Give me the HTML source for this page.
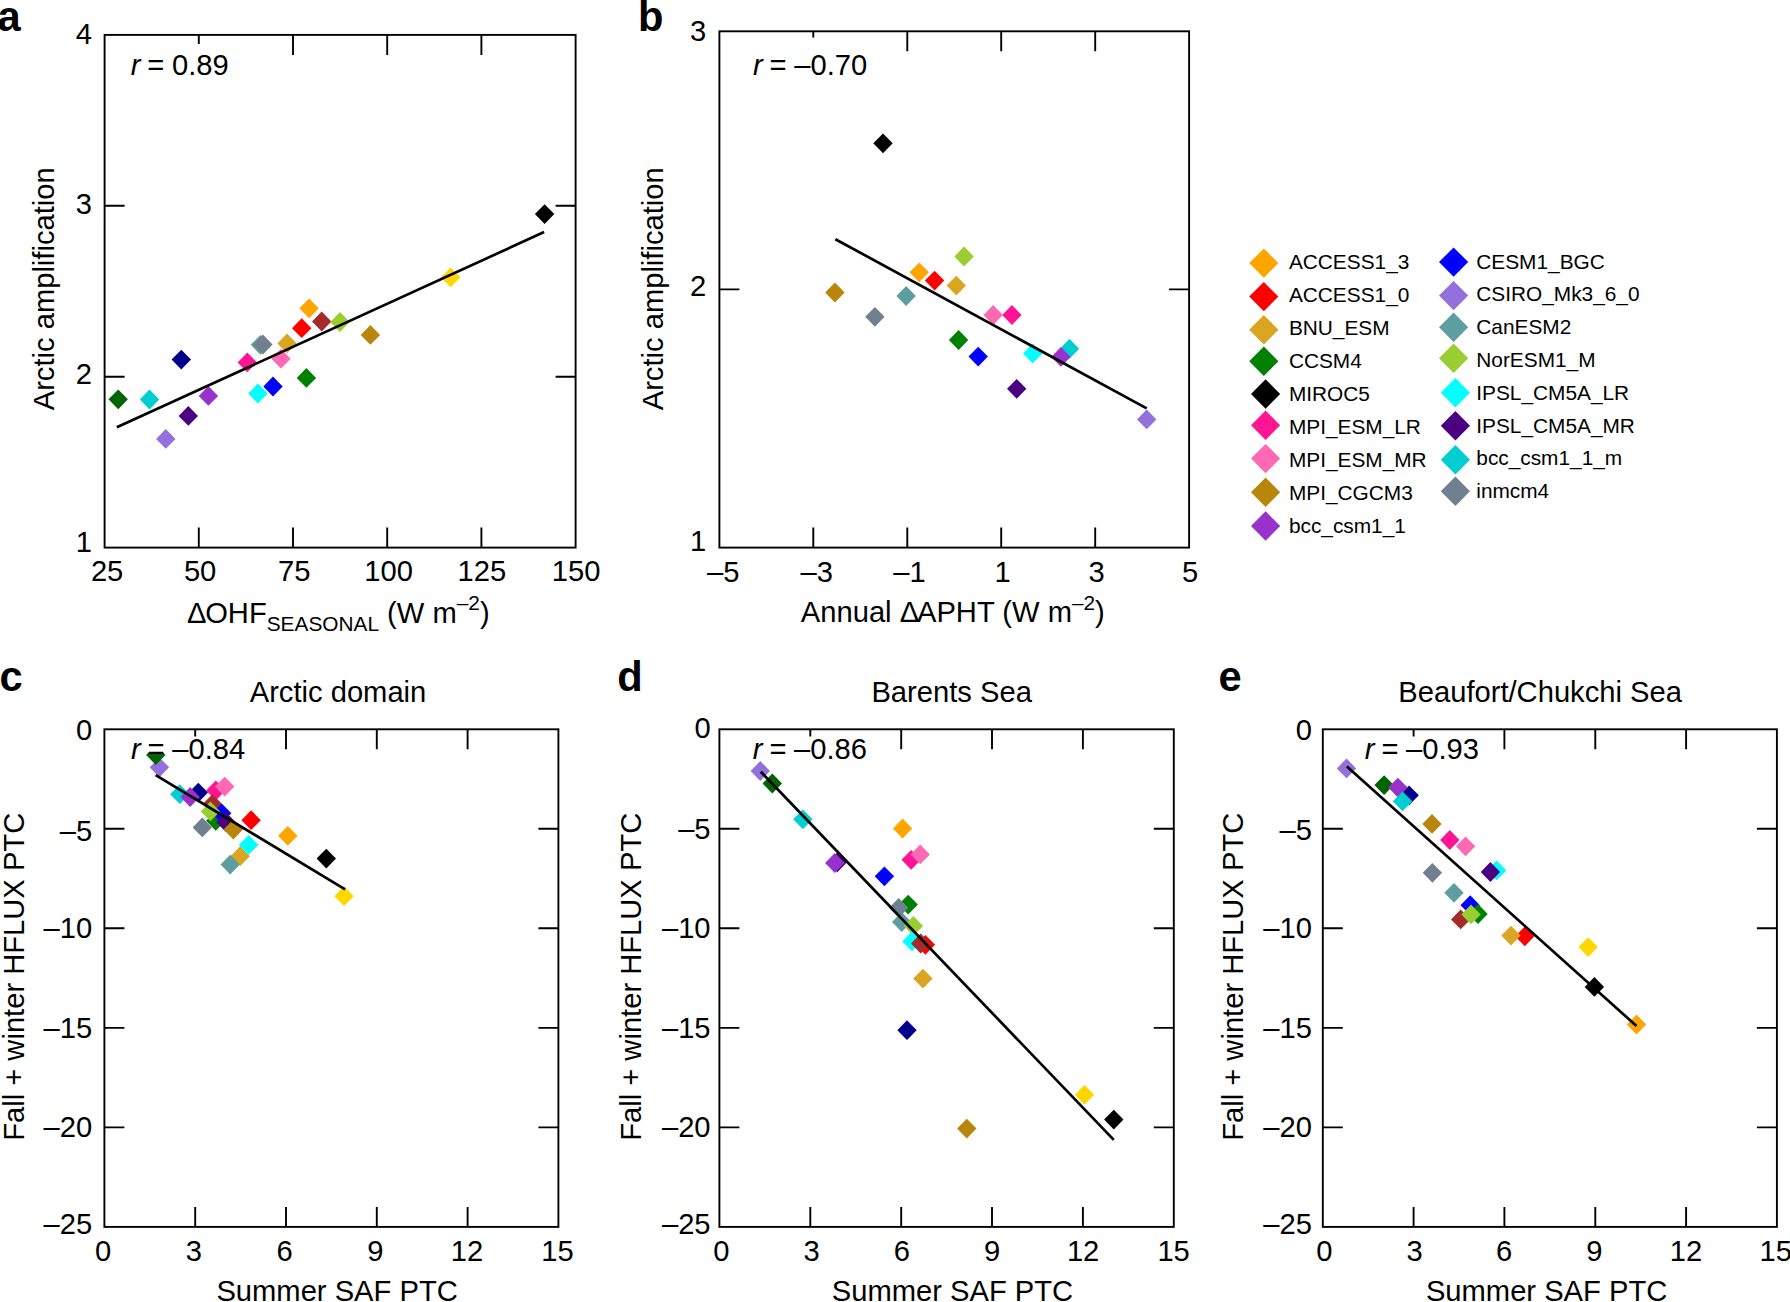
<!DOCTYPE html>
<html><head><meta charset="utf-8"><title>Figure</title>
<style>html,body{margin:0;padding:0;background:#fff;overflow:hidden}svg{display:block}text{font-family:"Liberation Sans",Arial,Helvetica,sans-serif;fill:#000}</style></head>
<body>
<svg width="1790" height="1302" viewBox="0 0 1790 1302">
<rect width="1790" height="1302" fill="#fff"/>
<rect x="104.6" y="34.9" width="471.00" height="512.70" fill="none" stroke="#000" stroke-width="1.9"/>
<path d="M198.8,547.6v-20.0M198.8,34.9v9.1M293.0,547.6v-20.0M293.0,34.9v20.0M387.2,547.6v-20.0M387.2,34.9v20.0M481.4,547.6v-20.0M481.4,34.9v20.0M104.6,205.8h20.0M575.6,205.8h-20.0M104.6,376.7h20.0M575.6,376.7h-20.0" stroke="#000" stroke-width="1.9" fill="none"/>
<polygon points="118.2,389.4 127.9,399.3 118.2,409.2 108.5,399.3" fill="#006400"/>
<polygon points="149.5,389.6 159.2,399.5 149.5,409.4 139.8,399.5" fill="#00CED1"/>
<polygon points="181.3,349.7 191.0,359.6 181.3,369.5 171.6,359.6" fill="#00008B"/>
<polygon points="188.3,406.0 198.0,415.9 188.3,425.8 178.6,415.9" fill="#4B0082"/>
<polygon points="165.8,429.0 175.5,438.9 165.8,448.8 156.1,438.9" fill="#9370DB"/>
<polygon points="208.4,386.0 218.1,395.9 208.4,405.8 198.7,395.9" fill="#9932CC"/>
<polygon points="247.3,352.5 257.0,362.4 247.3,372.3 237.6,362.4" fill="#FF1493"/>
<polygon points="257.9,383.6 267.6,393.5 257.9,403.4 248.2,393.5" fill="#00FFFF"/>
<polygon points="273.0,376.6 282.7,386.5 273.0,396.4 263.3,386.5" fill="#0000FF"/>
<polygon points="260.4,334.9 270.1,344.8 260.4,354.7 250.7,344.8" fill="#5F9EA0"/>
<polygon points="262.9,334.6 272.6,344.5 262.9,354.4 253.2,344.5" fill="#708090"/>
<polygon points="281.0,348.8 290.7,358.7 281.0,368.6 271.3,358.7" fill="#FF69B4"/>
<polygon points="287.0,333.5 296.7,343.4 287.0,353.3 277.3,343.4" fill="#DAA520"/>
<polygon points="306.4,368.0 316.1,377.9 306.4,387.8 296.7,377.9" fill="#008000"/>
<polygon points="301.7,318.3 311.4,328.2 301.7,338.1 292.0,328.2" fill="#FF0000"/>
<polygon points="321.7,311.6 331.4,321.5 321.7,331.4 312.0,321.5" fill="#A52A2A"/>
<polygon points="340.0,312.1 349.7,322.0 340.0,331.9 330.3,322.0" fill="#9ACD32"/>
<polygon points="309.1,298.4 318.8,308.3 309.1,318.2 299.4,308.3" fill="#FFA500"/>
<polygon points="370.4,325.0 380.1,334.9 370.4,344.8 360.7,334.9" fill="#B8860B"/>
<polygon points="450.6,267.5 460.3,277.4 450.6,287.3 440.9,277.4" fill="#FFD700"/>
<polygon points="544.6,204.2 554.3,214.1 544.6,224.0 534.9,214.1" fill="#000000"/>
<line x1="116.8" y1="427.3" x2="544.1" y2="232.1" stroke="#000" stroke-width="2.7"/>
<text x="130.7" y="75.2" font-size="29.17" font-style="italic">r</text><text x="147.3" y="75.2" font-size="29.17">=</text><text x="172.0" y="75.2" font-size="29.17">0.89</text>
<text x="92.0" y="44.3" text-anchor="end" font-size="29.17">4</text>
<text x="92.0" y="213.8" text-anchor="end" font-size="29.17">3</text>
<text x="92.0" y="383.5" text-anchor="end" font-size="29.17">2</text>
<text x="92.0" y="551.7" text-anchor="end" font-size="29.17">1</text>
<text x="107.1" y="581.0" text-anchor="middle" font-size="29.17">25</text>
<text x="200.1" y="581.0" text-anchor="middle" font-size="29.17">50</text>
<text x="294.3" y="581.0" text-anchor="middle" font-size="29.17">75</text>
<text x="388.6" y="581.0" text-anchor="middle" font-size="29.17">100</text>
<text x="481.8" y="581.0" text-anchor="middle" font-size="29.17">125</text>
<text x="576.1" y="581.0" text-anchor="middle" font-size="29.17">150</text>
<text transform="translate(53.8,288.8) rotate(-90)" text-anchor="middle" font-size="29.17">Arctic amplification</text>
<text x="187.0" y="623.0" font-size="29.17">Δ<tspan dx="-1.3">OHF</tspan><tspan font-size="20.83" dy="8.3">SEASONAL</tspan><tspan dy="-8.3"> (W m</tspan><tspan font-size="20.83" dy="-12.6">–2</tspan><tspan dy="12.6">)</tspan></text>
<text x="-2.4" y="30.8" font-size="41.67" font-weight="bold">a</text>
<rect x="719.4" y="31.3" width="469.70" height="516.30" fill="none" stroke="#000" stroke-width="1.9"/>
<path d="M813.3,547.6v-20.0M813.3,31.3v6.3M907.3,547.6v-20.0M907.3,31.3v20.0M1001.2,547.6v-20.0M1001.2,31.3v20.0M1095.2,547.6v-20.0M1095.2,31.3v20.0M719.4,289.4h20.0M1189.1,289.4h-20.0" stroke="#000" stroke-width="1.9" fill="none"/>
<polygon points="883.0,133.4 892.7,143.3 883.0,153.2 873.3,143.3" fill="#000000"/>
<polygon points="964.1,246.6 973.8,256.5 964.1,266.4 954.4,256.5" fill="#9ACD32"/>
<polygon points="919.2,262.4 928.9,272.3 919.2,282.2 909.5,272.3" fill="#FFA500"/>
<polygon points="934.6,270.7 944.3,280.6 934.6,290.5 924.9,280.6" fill="#FF0000"/>
<polygon points="956.3,275.7 966.0,285.6 956.3,295.5 946.6,285.6" fill="#DAA520"/>
<polygon points="834.9,282.6 844.6,292.5 834.9,302.4 825.2,292.5" fill="#B8860B"/>
<polygon points="906.1,286.1 915.8,296.0 906.1,305.9 896.4,296.0" fill="#5F9EA0"/>
<polygon points="874.9,306.9 884.6,316.8 874.9,326.7 865.2,316.8" fill="#708090"/>
<polygon points="993.2,305.1 1002.9,315.0 993.2,324.9 983.5,315.0" fill="#FF69B4"/>
<polygon points="1011.9,305.1 1021.6,315.0 1011.9,324.9 1002.2,315.0" fill="#FF1493"/>
<polygon points="958.6,330.1 968.3,340.0 958.6,349.9 948.9,340.0" fill="#008000"/>
<polygon points="978.2,346.7 987.9,356.6 978.2,366.5 968.5,356.6" fill="#0000FF"/>
<polygon points="1032.7,343.5 1042.4,353.4 1032.7,363.3 1023.0,353.4" fill="#00FFFF"/>
<polygon points="1069.5,338.9 1079.2,348.8 1069.5,358.7 1059.8,348.8" fill="#00CED1"/>
<polygon points="1060.9,347.0 1070.6,356.9 1060.9,366.8 1051.2,356.9" fill="#9932CC"/>
<polygon points="1016.7,378.9 1026.4,388.8 1016.7,398.7 1007.0,388.8" fill="#4B0082"/>
<polygon points="1146.7,409.5 1156.4,419.4 1146.7,429.3 1137.0,419.4" fill="#9370DB"/>
<line x1="835.4" y1="239.2" x2="1146.7" y2="408.4" stroke="#000" stroke-width="2.7"/>
<text x="753.0" y="75.1" font-size="29.17" font-style="italic">r</text><text x="769.6" y="75.1" font-size="29.17">=</text><text x="794.3" y="75.1" font-size="29.17">–0.70</text>
<text x="706.3" y="40.6" text-anchor="end" font-size="29.17">3</text>
<text x="706.3" y="295.7" text-anchor="end" font-size="29.17">2</text>
<text x="706.3" y="551.3" text-anchor="end" font-size="29.17">1</text>
<text x="723.2" y="581.6" text-anchor="middle" font-size="29.17">–5</text>
<text x="816.8" y="581.6" text-anchor="middle" font-size="29.17">–3</text>
<text x="909.5" y="581.6" text-anchor="middle" font-size="29.17">–1</text>
<text x="1002.5" y="581.6" text-anchor="middle" font-size="29.17">1</text>
<text x="1096.5" y="581.6" text-anchor="middle" font-size="29.17">3</text>
<text x="1190.0" y="581.6" text-anchor="middle" font-size="29.17">5</text>
<text transform="translate(663.1,288.8) rotate(-90)" text-anchor="middle" font-size="29.17">Arctic amplification</text>
<text x="800.8" y="622.4" font-size="29.17">Annual Δ<tspan dx="-2.2">APHT (W m</tspan><tspan font-size="20.83" dy="-12.6">–2</tspan><tspan dy="12.6">)</tspan></text>
<text x="638.0" y="30.8" font-size="41.67" font-weight="bold">b</text>
<polygon points="1263.8,248.4 1278.4,263.1 1263.8,277.8 1249.2,263.1" fill="#FFA500"/>
<text x="1288.9" y="268.8" text-anchor="start" font-size="20.83">ACCESS1_3</text>
<polygon points="1263.8,281.9 1278.4,296.6 1263.8,311.3 1249.2,296.6" fill="#FF0000"/>
<text x="1288.9" y="301.8" text-anchor="start" font-size="20.83">ACCESS1_0</text>
<polygon points="1263.8,315.0 1278.4,329.7 1263.8,344.4 1249.2,329.7" fill="#DAA520"/>
<text x="1288.9" y="334.8" text-anchor="start" font-size="20.83">BNU_ESM</text>
<polygon points="1263.8,346.5 1278.4,361.2 1263.8,375.9 1249.2,361.2" fill="#008000"/>
<text x="1288.9" y="367.8" text-anchor="start" font-size="20.83">CCSM4</text>
<polygon points="1265.6,379.3 1280.2,394.0 1265.6,408.7 1251.0,394.0" fill="#000000"/>
<text x="1288.9" y="400.8" text-anchor="start" font-size="20.83">MIROC5</text>
<polygon points="1265.6,410.6 1280.2,425.3 1265.6,440.0 1251.0,425.3" fill="#FF1493"/>
<text x="1288.9" y="433.8" text-anchor="start" font-size="20.83">MPI_ESM_LR</text>
<polygon points="1265.6,443.9 1280.2,458.6 1265.6,473.3 1251.0,458.6" fill="#FF69B4"/>
<text x="1288.9" y="466.8" text-anchor="start" font-size="20.83">MPI_ESM_MR</text>
<polygon points="1265.6,477.5 1280.2,492.2 1265.6,506.9 1251.0,492.2" fill="#B8860B"/>
<text x="1288.9" y="499.8" text-anchor="start" font-size="20.83">MPI_CGCM3</text>
<polygon points="1265.6,511.3 1280.2,526.0 1265.6,540.7 1251.0,526.0" fill="#9932CC"/>
<text x="1288.9" y="532.8" text-anchor="start" font-size="20.83">bcc_csm1_1</text>
<polygon points="1453.6,247.4 1468.2,262.1 1453.6,276.8 1439.0,262.1" fill="#0000FF"/>
<text x="1476.3" y="268.6" text-anchor="start" font-size="20.83">CESM1_BGC</text>
<polygon points="1453.6,280.9 1468.2,295.6 1453.6,310.3 1439.0,295.6" fill="#9370DB"/>
<text x="1476.3" y="301.4" text-anchor="start" font-size="20.83">CSIRO_Mk3_6_0</text>
<polygon points="1453.6,312.5 1468.2,327.2 1453.6,341.9 1439.0,327.2" fill="#5F9EA0"/>
<text x="1476.3" y="334.2" text-anchor="start" font-size="20.83">CanESM2</text>
<polygon points="1453.6,343.5 1468.2,358.2 1453.6,372.9 1439.0,358.2" fill="#9ACD32"/>
<text x="1476.3" y="367.0" text-anchor="start" font-size="20.83">NorESM1_M</text>
<polygon points="1455.4,378.1 1470.0,392.8 1455.4,407.5 1440.8,392.8" fill="#00FFFF"/>
<text x="1476.3" y="399.8" text-anchor="start" font-size="20.83">IPSL_CM5A_LR</text>
<polygon points="1455.4,411.1 1470.0,425.8 1455.4,440.5 1440.8,425.8" fill="#4B0082"/>
<text x="1476.3" y="432.6" text-anchor="start" font-size="20.83">IPSL_CM5A_MR</text>
<polygon points="1455.4,445.0 1470.0,459.7 1455.4,474.4 1440.8,459.7" fill="#00CED1"/>
<text x="1476.3" y="465.4" text-anchor="start" font-size="20.83">bcc_csm1_1_m</text>
<polygon points="1455.4,476.5 1470.0,491.2 1455.4,505.9 1440.8,491.2" fill="#708090"/>
<text x="1476.3" y="498.2" text-anchor="start" font-size="20.83">inmcm4</text>
<rect x="104.4" y="729.3" width="454.00" height="497.60" fill="none" stroke="#000" stroke-width="1.9"/>
<path d="M195.2,1226.9v-20.0M195.2,729.3v7.3M286.0,1226.9v-20.0M286.0,729.3v20.0M376.8,1226.9v-20.0M376.8,729.3v20.0M467.6,1226.9v-20.0M467.6,729.3v20.0M104.4,828.8h20.0M558.4,828.8h-20.0M104.4,928.3h20.0M558.4,928.3h-20.0M104.4,1027.9h20.0M558.4,1027.9h-20.0M104.4,1127.4h20.0M558.4,1127.4h-20.0" stroke="#000" stroke-width="1.9" fill="none"/>
<polygon points="159.4,757.4 169.1,767.3 159.4,777.2 149.7,767.3" fill="#9370DB"/>
<polygon points="148.7,752.3 162.9,752.3 165.5,755.0 155.8,764.9 146.1,755.0" fill="#006400"/>
<polygon points="179.8,784.3 189.5,794.2 179.8,804.1 170.1,794.2" fill="#00CED1"/>
<polygon points="198.3,782.7 208.0,792.6 198.3,802.5 188.6,792.6" fill="#00008B"/>
<polygon points="190.1,787.1 199.8,797.0 190.1,806.9 180.4,797.0" fill="#9932CC"/>
<polygon points="215.8,780.6 225.5,790.5 215.8,800.4 206.1,790.5" fill="#FF1493"/>
<polygon points="224.7,776.7 234.4,786.6 224.7,796.5 215.0,786.6" fill="#FF69B4"/>
<polygon points="212.4,794.2 222.1,804.1 212.4,814.0 202.7,804.1" fill="#A52A2A"/>
<polygon points="215.8,810.9 225.5,820.8 215.8,830.7 206.1,820.8" fill="#008000"/>
<polygon points="221.7,803.4 231.4,813.3 221.7,823.2 212.0,813.3" fill="#0000FF"/>
<polygon points="210.4,801.5 220.1,811.4 210.4,821.3 200.7,811.4" fill="#9ACD32"/>
<polygon points="225.8,812.1 235.5,822.0 225.8,831.9 216.1,822.0" fill="#4B0082"/>
<polygon points="233.3,819.6 243.0,829.5 233.3,839.4 223.6,829.5" fill="#B8860B"/>
<polygon points="202.3,817.5 212.0,827.4 202.3,837.3 192.6,827.4" fill="#708090"/>
<polygon points="251.1,810.3 260.8,820.2 251.1,830.1 241.4,820.2" fill="#FF0000"/>
<polygon points="287.8,825.9 297.5,835.8 287.8,845.7 278.1,835.8" fill="#FFA500"/>
<polygon points="240.2,846.3 249.9,856.2 240.2,866.1 230.5,856.2" fill="#DAA520"/>
<polygon points="248.6,835.0 258.3,844.9 248.6,854.8 238.9,844.9" fill="#00FFFF"/>
<polygon points="230.2,854.7 239.9,864.6 230.2,874.5 220.5,864.6" fill="#5F9EA0"/>
<polygon points="326.3,848.7 336.0,858.6 326.3,868.5 316.6,858.6" fill="#000000"/>
<polygon points="344.1,886.3 353.8,896.2 344.1,906.1 334.4,896.2" fill="#FFD700"/>
<line x1="155.7" y1="775.1" x2="345.1" y2="889.4" stroke="#000" stroke-width="2.7"/>
<text x="131.0" y="759.2" font-size="29.17" font-style="italic">r</text><text x="147.6" y="759.2" font-size="29.17">=</text><text x="172.3" y="759.2" font-size="29.17">–0.84</text>
<text x="92.2" y="740.4" text-anchor="end" font-size="29.17">0</text>
<text x="92.2" y="840.7" text-anchor="end" font-size="29.17">–5</text>
<text x="92.2" y="938.1" text-anchor="end" font-size="29.17">–10</text>
<text x="92.2" y="1037.7" text-anchor="end" font-size="29.17">–15</text>
<text x="92.2" y="1137.1" text-anchor="end" font-size="29.17">–20</text>
<text x="92.2" y="1234.2" text-anchor="end" font-size="29.17">–25</text>
<text x="103.2" y="1261.2" text-anchor="middle" font-size="29.17">0</text>
<text x="193.8" y="1261.2" text-anchor="middle" font-size="29.17">3</text>
<text x="284.7" y="1261.2" text-anchor="middle" font-size="29.17">6</text>
<text x="375.4" y="1261.2" text-anchor="middle" font-size="29.17">9</text>
<text x="466.9" y="1261.2" text-anchor="middle" font-size="29.17">12</text>
<text x="557.5" y="1261.2" text-anchor="middle" font-size="29.17">15</text>
<text transform="translate(23.8,976.8) rotate(-90)" text-anchor="middle" font-size="29.17">Fall + winter HFLUX PTC</text>
<text x="249.7" y="701.6" text-anchor="start" font-size="29.17">Arctic domain</text>
<text x="216.4" y="1300.6" text-anchor="start" font-size="29.17">Summer SAF PTC</text>
<text x="-0.5" y="690.8" font-size="41.67" font-weight="bold">c</text>
<rect x="719.4" y="729.3" width="454.40" height="497.60" fill="none" stroke="#000" stroke-width="1.9"/>
<path d="M810.3,1226.9v-20.0M810.3,729.3v7.3M901.2,1226.9v-20.0M901.2,729.3v20.0M992.0,1226.9v-20.0M992.0,729.3v20.0M1082.9,1226.9v-20.0M1082.9,729.3v20.0M719.4,828.8h20.0M1173.8,828.8h-20.0M719.4,928.3h20.0M1173.8,928.3h-20.0M719.4,1027.9h20.0M1173.8,1027.9h-20.0M719.4,1127.4h20.0M1173.8,1127.4h-20.0" stroke="#000" stroke-width="1.9" fill="none"/>
<polygon points="760.3,761.1 770.0,771.0 760.3,780.9 750.6,771.0" fill="#9370DB"/>
<polygon points="772.3,773.6 782.0,783.5 772.3,793.4 762.6,783.5" fill="#006400"/>
<polygon points="802.9,809.4 812.6,819.3 802.9,829.2 793.2,819.3" fill="#00CED1"/>
<polygon points="837.3,852.4 847.0,862.3 837.3,872.2 827.6,862.3" fill="#4B0082"/>
<polygon points="834.8,853.1 844.5,863.0 834.8,872.9 825.1,863.0" fill="#9932CC"/>
<polygon points="902.6,818.6 912.3,828.5 902.6,838.4 892.9,828.5" fill="#FFA500"/>
<polygon points="911.2,849.9 920.9,859.8 911.2,869.7 901.5,859.8" fill="#FF1493"/>
<polygon points="920.2,844.5 929.9,854.4 920.2,864.3 910.5,854.4" fill="#FF69B4"/>
<polygon points="884.4,866.4 894.1,876.3 884.4,886.2 874.7,876.3" fill="#0000FF"/>
<polygon points="908.2,894.7 917.9,904.6 908.2,914.5 898.5,904.6" fill="#008000"/>
<polygon points="901.7,912.1 911.4,922.0 901.7,931.9 892.0,922.0" fill="#5F9EA0"/>
<polygon points="898.7,897.9 908.4,907.8 898.7,917.7 889.0,907.8" fill="#708090"/>
<polygon points="913.4,916.0 923.1,925.9 913.4,935.8 903.7,925.9" fill="#9ACD32"/>
<polygon points="912.0,931.5 921.7,941.4 912.0,951.3 902.3,941.4" fill="#00FFFF"/>
<polygon points="925.4,934.9 935.1,944.8 925.4,954.7 915.7,944.8" fill="#FF0000"/>
<polygon points="920.7,933.6 930.4,943.5 920.7,953.4 911.0,943.5" fill="#A52A2A"/>
<polygon points="922.9,968.7 932.6,978.6 922.9,988.5 913.2,978.6" fill="#DAA520"/>
<polygon points="907.0,1020.3 916.7,1030.2 907.0,1040.1 897.3,1030.2" fill="#00008B"/>
<polygon points="966.8,1118.7 976.5,1128.6 966.8,1138.5 957.1,1128.6" fill="#B8860B"/>
<polygon points="1084.5,1084.9 1094.2,1094.8 1084.5,1104.7 1074.8,1094.8" fill="#FFD700"/>
<polygon points="1113.8,1109.7 1123.5,1119.6 1113.8,1129.5 1104.1,1119.6" fill="#000000"/>
<line x1="760.8" y1="771.7" x2="1113.8" y2="1139.9" stroke="#000" stroke-width="2.7"/>
<text x="752.8" y="759.2" font-size="29.17" font-style="italic">r</text><text x="769.4" y="759.2" font-size="29.17">=</text><text x="794.1" y="759.2" font-size="29.17">–0.86</text>
<text x="710.6" y="738.2" text-anchor="end" font-size="29.17">0</text>
<text x="710.6" y="839.4" text-anchor="end" font-size="29.17">–5</text>
<text x="710.6" y="938.1" text-anchor="end" font-size="29.17">–10</text>
<text x="710.6" y="1037.7" text-anchor="end" font-size="29.17">–15</text>
<text x="710.6" y="1137.1" text-anchor="end" font-size="29.17">–20</text>
<text x="710.6" y="1234.3" text-anchor="end" font-size="29.17">–25</text>
<text x="721.4" y="1261.2" text-anchor="middle" font-size="29.17">0</text>
<text x="811.7" y="1261.2" text-anchor="middle" font-size="29.17">3</text>
<text x="901.8" y="1261.2" text-anchor="middle" font-size="29.17">6</text>
<text x="992.0" y="1261.2" text-anchor="middle" font-size="29.17">9</text>
<text x="1083.1" y="1261.2" text-anchor="middle" font-size="29.17">12</text>
<text x="1173.6" y="1261.2" text-anchor="middle" font-size="29.17">15</text>
<text transform="translate(641.3,976.8) rotate(-90)" text-anchor="middle" font-size="29.17">Fall + winter HFLUX PTC</text>
<text x="871.4" y="701.6" text-anchor="start" font-size="29.17">Barents Sea</text>
<text x="831.8" y="1300.6" text-anchor="start" font-size="29.17">Summer SAF PTC</text>
<text x="617.3" y="690.8" font-size="41.67" font-weight="bold">d</text>
<rect x="1322.8" y="729.3" width="454.10" height="497.60" fill="none" stroke="#000" stroke-width="1.9"/>
<path d="M1413.6,1226.9v-20.0M1413.6,729.3v7.3M1504.4,1226.9v-20.0M1504.4,729.3v20.0M1595.3,1226.9v-20.0M1595.3,729.3v20.0M1686.1,1226.9v-20.0M1686.1,729.3v20.0M1322.8,828.8h20.0M1776.9,828.8h-20.0M1322.8,928.3h20.0M1776.9,928.3h-20.0M1322.8,1027.9h20.0M1776.9,1027.9h-20.0M1322.8,1127.4h20.0M1776.9,1127.4h-20.0" stroke="#000" stroke-width="1.9" fill="none"/>
<polygon points="1346.5,758.5 1356.2,768.4 1346.5,778.3 1336.8,768.4" fill="#9370DB"/>
<polygon points="1384.1,775.2 1393.8,785.1 1384.1,795.0 1374.4,785.1" fill="#006400"/>
<polygon points="1409.1,785.4 1418.8,795.3 1409.1,805.2 1399.4,795.3" fill="#00008B"/>
<polygon points="1397.9,777.7 1407.6,787.6 1397.9,797.5 1388.2,787.6" fill="#9932CC"/>
<polygon points="1402.6,791.4 1412.3,801.3 1402.6,811.2 1392.9,801.3" fill="#00CED1"/>
<polygon points="1432.0,814.0 1441.7,823.9 1432.0,833.8 1422.3,823.9" fill="#B8860B"/>
<polygon points="1449.8,830.1 1459.5,840.0 1449.8,849.9 1440.1,840.0" fill="#FF1493"/>
<polygon points="1465.6,836.4 1475.3,846.3 1465.6,856.2 1455.9,846.3" fill="#FF69B4"/>
<polygon points="1496.6,860.5 1506.3,870.4 1496.6,880.3 1486.9,870.4" fill="#00FFFF"/>
<polygon points="1490.4,862.1 1500.1,872.0 1490.4,881.9 1480.7,872.0" fill="#4B0082"/>
<polygon points="1432.4,862.9 1442.1,872.8 1432.4,882.7 1422.7,872.8" fill="#708090"/>
<polygon points="1454.0,882.9 1463.7,892.8 1454.0,902.7 1444.3,892.8" fill="#5F9EA0"/>
<polygon points="1470.2,895.3 1479.9,905.2 1470.2,915.1 1460.5,905.2" fill="#0000FF"/>
<polygon points="1478.0,904.1 1487.7,914.0 1478.0,923.9 1468.3,914.0" fill="#008000"/>
<polygon points="1460.7,909.5 1470.4,919.4 1460.7,929.3 1451.0,919.4" fill="#A52A2A"/>
<polygon points="1471.0,904.5 1480.7,914.4 1471.0,924.3 1461.3,914.4" fill="#9ACD32"/>
<polygon points="1524.8,926.4 1534.5,936.3 1524.8,946.2 1515.1,936.3" fill="#FF0000"/>
<polygon points="1511.0,925.7 1520.7,935.6 1511.0,945.5 1501.3,935.6" fill="#DAA520"/>
<polygon points="1588.2,937.2 1597.9,947.1 1588.2,957.0 1578.5,947.1" fill="#FFD700"/>
<polygon points="1594.4,977.0 1604.1,986.9 1594.4,996.8 1584.7,986.9" fill="#000000"/>
<polygon points="1636.5,1014.6 1646.2,1024.5 1636.5,1034.4 1626.8,1024.5" fill="#FFA500"/>
<line x1="1346.9" y1="766.5" x2="1636.5" y2="1026.0" stroke="#000" stroke-width="2.7"/>
<text x="1364.8" y="759.2" font-size="29.17" font-style="italic">r</text><text x="1381.4" y="759.2" font-size="29.17">=</text><text x="1406.1" y="759.2" font-size="29.17">–0.93</text>
<text x="1312.0" y="739.7" text-anchor="end" font-size="29.17">0</text>
<text x="1312.0" y="839.9" text-anchor="end" font-size="29.17">–5</text>
<text x="1312.0" y="938.3" text-anchor="end" font-size="29.17">–10</text>
<text x="1312.0" y="1037.7" text-anchor="end" font-size="29.17">–15</text>
<text x="1312.0" y="1137.1" text-anchor="end" font-size="29.17">–20</text>
<text x="1312.0" y="1234.0" text-anchor="end" font-size="29.17">–25</text>
<text x="1324.3" y="1261.2" text-anchor="middle" font-size="29.17">0</text>
<text x="1414.7" y="1261.2" text-anchor="middle" font-size="29.17">3</text>
<text x="1504.0" y="1261.2" text-anchor="middle" font-size="29.17">6</text>
<text x="1594.4" y="1261.2" text-anchor="middle" font-size="29.17">9</text>
<text x="1686.0" y="1261.2" text-anchor="middle" font-size="29.17">12</text>
<text x="1775.7" y="1261.2" text-anchor="middle" font-size="29.17">15</text>
<text transform="translate(1242.6,976.8) rotate(-90)" text-anchor="middle" font-size="29.17">Fall + winter HFLUX PTC</text>
<text x="1398.3" y="701.6" text-anchor="start" font-size="29.17">Beaufort/Chukchi Sea</text>
<text x="1425.9" y="1300.6" text-anchor="start" font-size="29.17">Summer SAF PTC</text>
<text x="1218.6" y="690.8" font-size="41.67" font-weight="bold">e</text>
</svg>
</body></html>
